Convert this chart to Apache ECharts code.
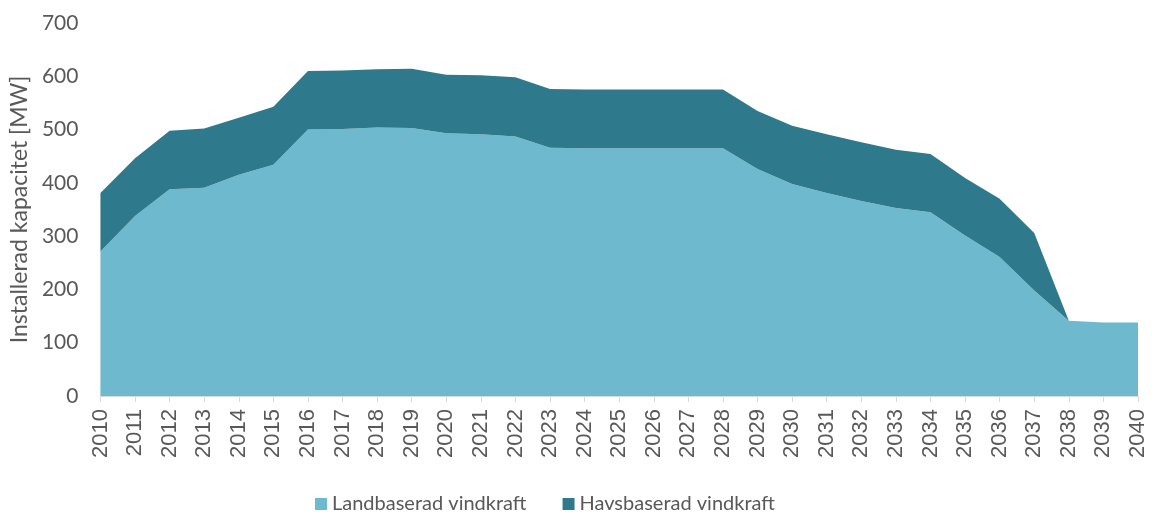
<!DOCTYPE html>
<html><head><meta charset="utf-8">
<script src="https://cdn.jsdelivr.net/npm/echarts@6/dist/echarts.min.js"></script>
<style>html,body{margin:0;padding:0;background:#fff}#c{width:1152px;height:513px}</style>
</head><body><div id="c"></div>
<script>
const years = ['2010','2011','2012','2013','2014','2015','2016','2017','2018','2019','2020','2021','2022','2023','2024','2025','2026','2027','2028','2029','2030','2031','2032','2033','2034','2035','2036','2037','2038','2039','2040'];
const landbaserad = [271,338,388,391,415,434,500,501,504,503,493,491,487,466,465,465,465,465,465,426,398,381,366,353,345,301,261,198,141,138,138];
const havsbaserad = [110,108,110,111,107,109,110,110,109,111,110,111,111,110,110,110,110,110,110,109,109,110,110,109,109,108,109,108,0,0,0];
const yTicks = [0,100,200,300,400,500,600,700];

const font = 'Lato';
const chart = echarts.init(document.getElementById('c'), null, {renderer:'canvas'});
chart.setOption({
  animation:false,
  textStyle:{fontFamily:font},
  grid:{left:99,right:14,top:23,bottom:117,containLabel:false},
  legend:{top:494,left:315,icon:'rect',itemWidth:12,itemHeight:12,itemGap:36,padding:0,
    textStyle:{fontFamily:font,fontSize:20,color:'#595959'},
    data:['Landbaserad vindkraft','Havsbaserad vindkraft']},
  xAxis:{type:'category',data:years,boundaryGap:false,
    axisLine:{lineStyle:{color:'#d9d9d9',width:1}},
    axisTick:{show:true,alignWithLabel:true,length:6,lineStyle:{color:'#d9d9d9'}},
    axisLabel:{rotate:90,interval:0,fontSize:22,color:'#595959',margin:13,fontFamily:'Liberation Sans'}},
  yAxis:{type:'value',min:yTicks[0],max:yTicks[yTicks.length-1],interval:100,
    name:'Installerad kapacitet [MW]',nameLocation:'middle',nameGap:68,
    nameTextStyle:{fontSize:23,color:'#595959',fontFamily:font},
    axisLine:{show:false},axisTick:{show:false},splitLine:{show:false},
    axisLabel:{fontSize:21,color:'#595959',margin:22,fontFamily:font}},
  series:[
    {name:'Landbaserad vindkraft',type:'line',stack:'t',data:landbaserad,symbol:'none',
     lineStyle:{width:0},itemStyle:{color:'#6fb9ce'},areaStyle:{color:'#6fb9ce',opacity:1}},
    {name:'Havsbaserad vindkraft',type:'line',stack:'t',data:havsbaserad,symbol:'none',
     lineStyle:{width:0},itemStyle:{color:'#2e7a8c'},areaStyle:{color:'#2e7a8c',opacity:1}}
  ]
});
</script></body></html>
